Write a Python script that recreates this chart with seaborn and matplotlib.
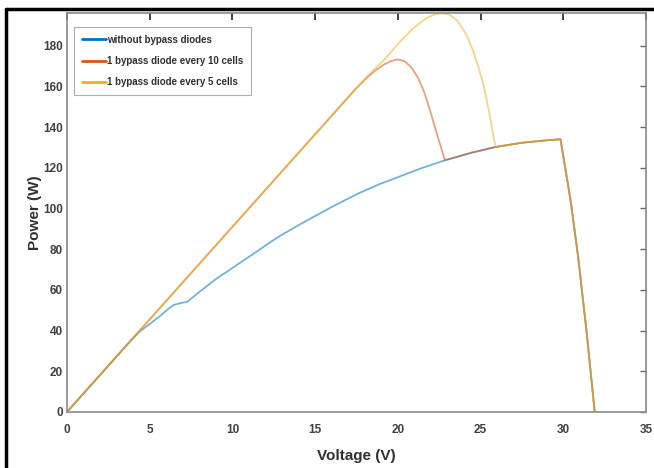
import numpy as np
import pandas as pd
import seaborn as sns
import matplotlib.pyplot as plt
from matplotlib.lines import Line2D

# values
voltage_blue = [0, 2.0, 3.8, 4.4, 5.0, 5.6, 6.1, 6.45, 6.9, 7.27, 8.0, 9.0, 10.1, 11.5,
                12.3, 12.93, 14.0, 15.0, 16.3, 17.59, 18.9, 20.2, 21.5, 22.85, 24.5, 25.9,
                27.5, 29.0, 29.83, 30.44, 30.9, 31.4, 31.9]
power_blue = [0, 18.2, 34.6, 39.6, 43.2, 47.0, 50.5, 52.6, 53.6, 54.1, 59.0, 65.3, 71.3, 79.0,
              83.5, 86.8, 91.8, 96.3, 102.0, 107.3, 112.0, 116.0, 120.0, 123.7, 127.5, 130.2,
              132.3, 133.5, 134.0, 104.0, 76.0, 40.0, 0]

voltage_red_head = [0, 17.4, 18.0, 18.6, 19.2, 19.6, 20.0, 20.4, 20.8, 21.2, 21.6, 22.0,
                    22.4, 22.85]
power_red_head = [0, 158.3, 163.2, 167.6, 170.9, 172.5, 173.2, 172.4, 169.5, 164.5, 157.0,
                  146.7, 135.5, 123.7]

voltage_yellow_head = [0, 17.4, 18.0, 18.6, 19.2, 20.0, 20.8, 21.4, 21.9, 22.3, 22.65, 23.1,
                       23.6, 24.1, 24.5, 24.87, 25.2, 25.5, 25.9]
power_yellow_head = [0, 158.3, 163.6, 168.6, 173.3, 180.8, 187.6, 191.6, 194.3, 195.5, 196.0,
                     195.3, 192.3, 186.0, 178.5, 169.5, 160.0, 148.0, 130.2]

labels = ['without bypass diodes', '1 bypass diode every 10 cells', '1 bypass diode every 5 cells']
colors = ['#0072BD', '#D95319', '#EDB120']


def with_blue_tail(v_head, p_head):
    v = list(v_head) + [x for x in voltage_blue if x > v_head[-1]]
    p = list(p_head) + [y for x, y in zip(voltage_blue, power_blue) if x > v_head[-1]]
    return v, p


v_red, p_red = with_blue_tail(voltage_red_head, power_red_head)
v_yel, p_yel = with_blue_tail(voltage_yellow_head, power_yellow_head)

df = pd.concat([
    pd.DataFrame({'Voltage': voltage_blue, 'Power': power_blue, 'case': labels[0]}),
    pd.DataFrame({'Voltage': v_red, 'Power': p_red, 'case': labels[1]}),
    pd.DataFrame({'Voltage': v_yel, 'Power': p_yel, 'case': labels[2]}),
])

sns.set_style('white')
plt.rcParams['font.family'] = ['Liberation Sans Narrow', 'Liberation Sans', 'DejaVu Sans']

fig = plt.figure(figsize=(6.54, 4.68), dpi=100)
ax = fig.add_axes([0.1024, 0.1197, 0.8854, 0.8523])

sns.lineplot(data=df, x='Voltage', y='Power', hue='case', palette=colors,
             estimator=None, sort=False, linewidth=1.3, alpha=0.55, legend=False, ax=ax)

ax.set_xlim(0, 35)
ax.set_ylim(0, 196)
ax.set_xticks(np.arange(0, 36, 5))
ax.set_yticks(np.arange(0, 181, 20))
ax.tick_params(axis='x', direction='in', top=True, length=5, width=1.3,
               labelsize=8.5, labelcolor='#404040', color='#333333', pad=9)
ax.tick_params(axis='y', direction='in', right=True, length=4, width=1,
               labelsize=8.5, labelcolor='#404040', color='#666666', pad=3)
for lab in ax.get_xticklabels() + ax.get_yticklabels():
    lab.set_fontweight('bold')
for s in ax.spines.values():
    s.set_color('#8a8a8a')
    s.set_linewidth(1.2)

ax.set_xlabel('Voltage (V)', fontsize=11, fontweight='bold', color='#303030', labelpad=9)
ax.set_ylabel('Power (W)', fontsize=11, fontweight='bold', color='#303030', labelpad=1)

handles = [Line2D([0], [0], color=c, lw=2) for c in colors]
leg = ax.legend(handles, labels, loc='upper left', bbox_to_anchor=(0.012, 0.965),
                prop={'weight': 'bold', 'size': 7}, frameon=True,
                fancybox=False, handlelength=2.5, handletextpad=0.1,
                labelspacing=1.15, borderpad=0.8, borderaxespad=0.0)
leg.get_frame().set_edgecolor('#9a9a9a')
leg.get_frame().set_linewidth(0.8)
for t in leg.get_texts():
    t.set_color('#303030')

# outer frame lines of the figure
fig.add_artist(Line2D([0.009, 0.009], [0, 0.981], color='black', lw=2.5, transform=fig.transFigure))
fig.add_artist(Line2D([0.009, 1.0], [0.981, 0.981], color='black', lw=2.5, transform=fig.transFigure))

fig.savefig('out.png', dpi=100)
